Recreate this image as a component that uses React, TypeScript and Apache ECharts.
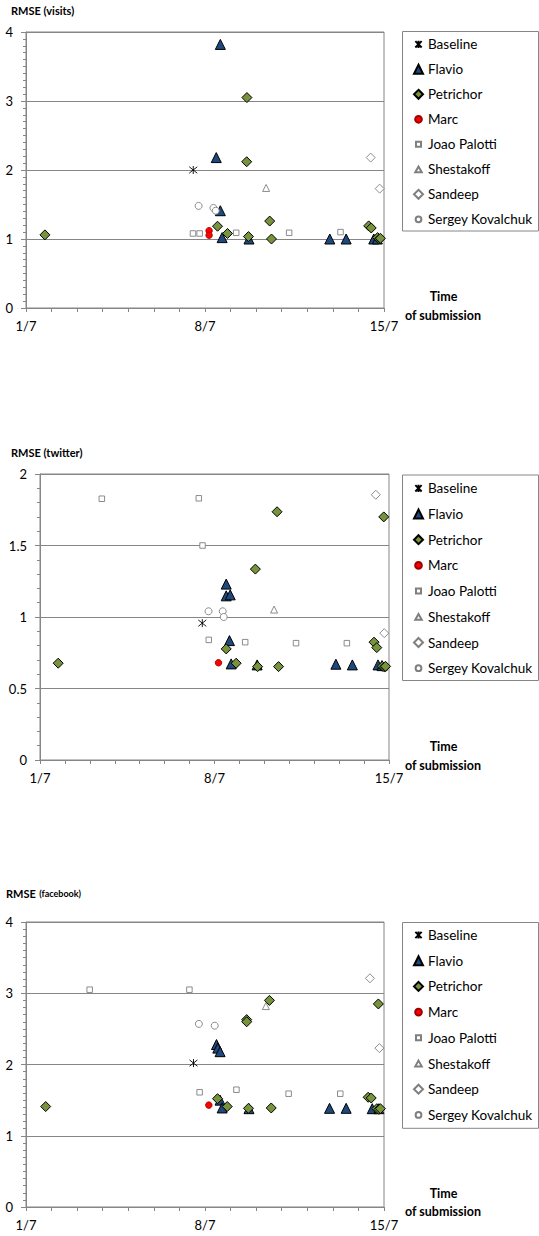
import React, { useEffect, useRef } from "react";
import * as echarts from "echarts";

// ---------- data (day of July, RMSE) ----------
const seriesNames = ["Baseline", "Flavio", "Petrichor", "Marc", "Joao Palotti", "Shestakoff", "Sandeep", "Sergey Kovalchuk"];
const xTickDays = [1, 8, 15];

// visits
const visitsBaseline = [[7.54, 2.0]];
const visitsFlavio = [[8.6, 3.82], [8.44, 2.18], [8.6, 1.41], [8.67, 1.02], [9.72, 1.0], [12.88, 1.0], [13.52, 1.0], [14.6, 1.0], [14.74, 1.0]];
const visitsPetrichor = [[1.74, 1.06], [9.64, 3.05], [9.63, 2.12], [8.49, 1.185], [8.88, 1.08], [9.7, 1.035], [10.53, 1.26], [10.6, 1.0], [14.4, 1.19], [14.5, 1.16], [14.75, 1.02], [14.82, 1.0], [14.86, 1.01]];
const visitsMarc = [[8.16, 1.12], [8.16, 1.055]];
const visitsJoao = [[7.53, 1.08], [7.79, 1.08], [9.22, 1.09], [11.29, 1.09], [13.3, 1.1]];
const visitsShestakoff = [[10.39, 1.74]];
const visitsSandeep = [[14.48, 2.18], [14.83, 1.73]];
const visitsSergey = [[7.75, 1.48], [8.33, 1.45], [8.42, 1.41]];

// twitter
const twitterBaseline = [[7.51, 0.957]];
const twitterFlavio = [[8.47, 1.23], [8.47, 1.148], [8.63, 1.155], [8.6, 0.835], [8.67, 0.672], [9.71, 0.665], [12.87, 0.67], [13.53, 0.665], [14.56, 0.665], [14.72, 0.66]];
const twitterPetrichor = [[1.73, 0.677], [9.64, 1.335], [8.47, 0.777], [8.87, 0.677], [9.73, 0.653], [10.51, 1.736], [10.57, 0.653], [14.79, 1.7], [14.4, 0.824], [14.51, 0.786], [14.73, 0.655], [14.82, 0.65], [14.86, 0.655]];
const twitterMarc = [[8.16, 0.68]];
const twitterJoao = [[3.48, 1.827], [7.37, 1.83], [7.52, 1.5], [7.77, 0.84], [9.23, 0.824], [11.27, 0.817], [13.31, 0.817]];
const twitterShestakoff = [[10.39, 1.052]];
const twitterSandeep = [[14.47, 1.855], [14.81, 0.887]];
const twitterSergey = [[7.76, 1.04], [8.33, 1.04], [8.37, 1.0]];

// facebook
const facebookBaseline = [[7.55, 2.02]];
const facebookFlavio = [[8.45, 2.28], [8.5, 2.23], [8.59, 2.18], [8.59, 1.5], [8.67, 1.39], [9.72, 1.38], [12.87, 1.385], [13.52, 1.385], [14.54, 1.38], [14.8, 1.38]];
const facebookPetrichor = [[1.77, 1.41], [9.63, 2.63], [9.63, 2.6], [10.52, 2.9], [14.78, 2.85], [8.49, 1.52], [8.87, 1.41], [9.7, 1.385], [10.59, 1.39], [14.38, 1.54], [14.5, 1.53], [14.72, 1.38], [14.8, 1.37], [14.86, 1.38]];
const facebookMarc = [[8.15, 1.43]];
const facebookJoao = [[3.49, 3.05], [7.39, 3.05], [7.79, 1.61], [9.23, 1.646], [11.27, 1.59], [13.29, 1.59]];
const facebookShestakoff = [[10.38, 2.82]];
const facebookSandeep = [[14.45, 3.21], [14.82, 2.23]];
const facebookSergey = [[7.76, 2.57], [8.38, 2.545]];

const chartData = [
  [visitsBaseline, visitsFlavio, visitsPetrichor, visitsMarc, visitsJoao, visitsShestakoff, visitsSandeep, visitsSergey],
  [twitterBaseline, twitterFlavio, twitterPetrichor, twitterMarc, twitterJoao, twitterShestakoff, twitterSandeep, twitterSergey],
  [facebookBaseline, facebookFlavio, facebookPetrichor, facebookMarc, facebookJoao, facebookShestakoff, facebookSandeep, facebookSergey],
];

const FONT = 'Lato, "Open Sans", sans-serif';
const GRAY = "#868686";
const MGRAY = "#7f7f7f";
const PAD = "M0,0L0,0M10,10L10,10";

const styles = [
  { symbol: "path://M1,1L9,9M9,1L1,9M5,0L5,10", size: 8, icon: "path://" + PAD + "M1.5,1.5L8.5,8.5M8.5,1.5L1.5,8.5M5,1L5,9", itemStyle: { color: "rgba(0,0,0,0)", borderColor: "#000", borderWidth: 0.9, opacity: 1 } },
  { symbol: "triangle", size: 10, icon: "triangle", itemStyle: { color: "#1F497D", borderColor: "#000", borderWidth: 1, opacity: 1 } },
  { symbol: "diamond", size: 10, icon: "diamond", itemStyle: { color: "#77933C", borderColor: "#000", borderWidth: 1, opacity: 1 } },
  { symbol: "circle", size: 6.5, icon: "path://" + PAD + "M1.3,5A3.7,3.7,0,1,1,8.7,5A3.7,3.7,0,1,1,1.3,5Z", itemStyle: { color: "#FF0000", borderColor: "#A00000", borderWidth: 0.9, opacity: 1 } },
  { symbol: "rect", size: 5.5, icon: "path://" + PAD + "M2.2,2.2L7.8,2.2L7.8,7.8L2.2,7.8Z", itemStyle: { color: "#fff", borderColor: MGRAY, borderWidth: 0.9, opacity: 1 } },
  { symbol: "triangle", size: 7, icon: "path://" + PAD + "M5,1.8L8.6,8.2L1.4,8.2Z", itemStyle: { color: "#fff", borderColor: MGRAY, borderWidth: 0.9, opacity: 1 } },
  { symbol: "diamond", size: 9, icon: "diamond", itemStyle: { color: "#fff", borderColor: MGRAY, borderWidth: 0.9, opacity: 1 } },
  { symbol: "circle", size: 7, icon: "path://" + PAD + "M1.8,5A3.2,3.2,0,1,1,8.2,5A3.2,3.2,0,1,1,1.8,5Z", itemStyle: { color: "#fff", borderColor: MGRAY, borderWidth: 0.9, opacity: 1 } },
];

const grids = [
  { left: 26, top: 32, width: 358, height: 276, yMax: 4, yInt: 1, yMinor: 10 },
  { left: 40, top: 474, width: 349, height: 286, yMax: 2, yInt: 0.5, yMinor: 5 },
  { left: 26, top: 922, width: 358, height: 285, yMax: 4, yInt: 1, yMinor: 10 },
];
const legendBoxes = [
  { top: 31.5, height: 199.5, itemTop: 36.3, gap: 9 },
  { top: 475, height: 205.5, itemTop: 480.3, gap: 9.7 },
  { top: 922.5, height: 205.8, itemTop: 927, gap: 9.7 },
];
const titleY = [10, 452, 893];
const timeY = [[296.7, 315], [746.7, 765], [1193.3, 1211.7]];

export default function App() {
  const ref = useRef<HTMLDivElement>(null);
  useEffect(() => {
    document.body.style.margin = "0";
    const chart = echarts.init(ref.current!, null, { renderer: "svg" });
    const series: any[] = [];
    chartData.forEach((sets, gi) => {
      sets.forEach((d, si) => {
        series.push({
          type: "scatter",
          name: seriesNames[si],
          xAxisIndex: gi,
          yAxisIndex: gi,
          data: d,
          symbol: styles[si].symbol,
          symbolSize: styles[si].size,
          itemStyle: styles[si].itemStyle,
          emphasis: { disabled: true },
        });
      });
    });
    const graphic: any[] = [];
    legendBoxes.forEach((b) => {
      graphic.push({ type: "rect", shape: { x: 402.5, y: b.top, width: 136, height: b.height }, style: { fill: "none", stroke: GRAY, lineWidth: 1 } });
    });
    graphic.push({ type: "text", x: 11, y: titleY[0], style: { text: "RMSE (visits)", fontFamily: FONT, fontSize: 11, fontWeight: "bold", fill: "#000", verticalAlign: "middle" } });
    graphic.push({ type: "text", x: 11, y: titleY[1], style: { text: "RMSE (twitter)", fontFamily: FONT, fontSize: 11, fontWeight: "bold", fill: "#000", verticalAlign: "middle" } });
    graphic.push({
      type: "text", x: 6, y: titleY[2],
      style: {
        text: "{a|RMSE} {b|(facebook)}", fill: "#000", verticalAlign: "middle",
        rich: { a: { fontFamily: FONT, fontSize: 11, fontWeight: "bold" }, b: { fontFamily: FONT, fontSize: 9, fontWeight: "bold" } },
      },
    });
    timeY.forEach((ys) => {
      graphic.push({ type: "text", x: 443.5, y: ys[0], style: { text: "Time", fontFamily: FONT, fontSize: 12.5, fontWeight: "bold", fill: "#000", align: "center", verticalAlign: "middle" } });
      graphic.push({ type: "text", x: 443, y: ys[1], style: { text: "of submission", fontFamily: FONT, fontSize: 12.5, fontWeight: "bold", fill: "#000", align: "center", verticalAlign: "middle" } });
    });

    chart.setOption({
      animation: false,
      grid: grids.map((g) => ({ left: g.left, top: g.top, width: g.width, height: g.height, show: true, borderColor: GRAY, borderWidth: 1, backgroundColor: "transparent" })),
      xAxis: grids.map((g, i) => ({
        type: "value", gridIndex: i, min: xTickDays[0], max: xTickDays[2], interval: 7,
        axisLine: { show: true, lineStyle: { color: GRAY } },
        axisTick: { show: true, length: 4, lineStyle: { color: GRAY } },
        minorTick: { show: true, splitNumber: 7, length: 4, lineStyle: { color: GRAY } },
        splitLine: { show: false },
        axisLabel: { margin: 11, color: "#000", fontFamily: FONT, fontSize: 13, formatter: (v: number) => `${v}/7` },
      })),
      yAxis: grids.map((g, i) => ({
        type: "value", gridIndex: i, min: 0, max: g.yMax, interval: g.yInt,
        axisLine: { show: true, lineStyle: { color: GRAY } },
        axisTick: { show: true, length: 5, lineStyle: { color: GRAY } },
        minorTick: { show: true, splitNumber: g.yMinor, length: 3, lineStyle: { color: GRAY } },
        splitLine: { show: true, lineStyle: { color: GRAY, width: 1 } },
        axisLabel: { margin: 13, color: "#000", fontFamily: FONT, fontSize: 13 },
      })),
      legend: legendBoxes.map((b) => ({
        orient: "vertical", left: 413, top: b.itemTop, itemWidth: 9, itemHeight: 9, itemGap: b.gap,
        selectedMode: false, padding: 0,
        data: seriesNames.map((n, i) => ({ name: n, icon: styles[i].icon })),
        textStyle: { fontFamily: FONT, fontSize: 13.5, color: "#000", lineHeight: 16 },
      })),
      graphic,
      series,
    });
    return () => chart.dispose();
  }, []);
  return <div ref={ref} style={{ position: "absolute", left: 0, top: 0, width: 539, height: 1236 }} />;
}
